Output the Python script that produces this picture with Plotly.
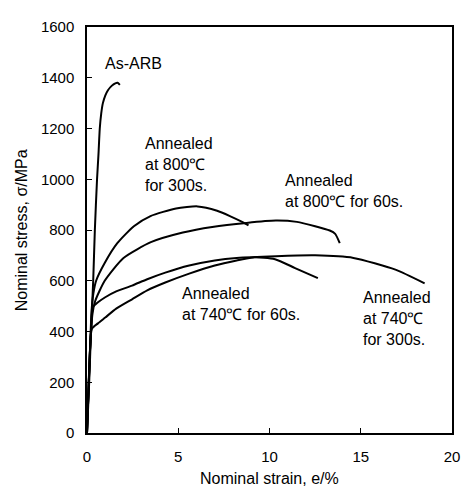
import plotly.graph_objects as go

# Data (nominal strain %, nominal stress MPa)
arb_strain = [0, 0.12, 0.22, 0.34, 0.43, 0.55, 0.63, 0.70, 0.78, 0.87, 1.0, 1.14, 1.35, 1.55, 1.68, 1.8]
arb_stress = [0, 200, 400, 600, 800, 1000, 1100, 1200, 1260, 1300, 1330, 1350, 1368, 1378, 1380, 1372]

a800_300_strain = [0, 0.15, 0.25, 0.35, 0.5, 0.97, 1.66, 2.57, 3.48, 4.88, 6.06, 7.13, 7.83, 8.5, 8.85]
a800_300_stress = [0, 300, 480, 550, 600, 670, 748, 815, 855, 885, 893, 876, 855, 832, 818]

a800_60_strain = [0, 0.18, 0.3, 0.45, 0.97, 2.0, 3.5, 5.25, 6.86, 8.74, 10.35, 11.5, 12.5, 13.3, 13.6, 13.85]
a800_60_stress = [0, 350, 470, 520, 600, 690, 752, 790, 812, 828, 837, 832, 815, 798, 785, 748]

a740_300_strain = [0, 0.15, 0.25, 0.32, 0.6, 1.0, 1.6, 2.47, 3.3, 4.29, 5.6, 7.0, 8.2, 10.35, 12.5, 14.6, 16.9, 18.5]
a740_300_stress = [0, 300, 440, 496, 515, 535, 558, 581, 606, 632, 660, 680, 690, 697, 700, 690, 644, 590]

a740_60_strain = [0, 0.15, 0.27, 0.6, 1.0, 1.6, 2.47, 3.3, 4.29, 5.6, 7.0, 8.2, 9.1, 10.3, 11.4, 12.65]
a740_60_stress = [0, 300, 411, 432, 455, 490, 527, 562, 593, 628, 660, 680, 692, 685, 650, 610]

x_ticks = [0, 5, 10, 15, 20]
y_ticks = [0, 200, 400, 600, 800, 1000, 1200, 1400, 1600]

labels = [
    ("As-ARB", 0.9, 1457),
    ("Annealed<br>at 800\u2103<br>for 300s.", 3.06, 1058),
    ("Annealed<br>at 800\u2103 for 60s.", 10.72, 953),
    ("Annealed<br>at 740\u2103 for 60s.", 5.09, 508),
    ("Annealed<br>at 740\u2103<br>for 300s.", 15.0, 450),
]

FONT = "Liberation Sans, Arial, sans-serif"

fig = go.Figure()
for xs, ys in [(arb_strain, arb_stress), (a800_300_strain, a800_300_stress),
               (a800_60_strain, a800_60_stress), (a740_300_strain, a740_300_stress),
               (a740_60_strain, a740_60_stress)]:
    fig.add_trace(go.Scatter(x=xs, y=ys, mode="lines",
                             line=dict(color="black", width=2, shape="spline", smoothing=0.6),
                             showlegend=False, hoverinfo="skip"))

for text, x, y in labels:
    fig.add_annotation(x=x, y=y, text=text, showarrow=False, xanchor="left", yanchor="middle",
                       align="left", font=dict(family=FONT, size=16, color="black"))

fig.add_annotation(xref="paper", yref="paper", x=0.5, y=-0.113, text="Nominal strain, e/%",
                   showarrow=False, xanchor="center", yanchor="middle",
                   font=dict(family=FONT, size=16, color="black"))
fig.add_annotation(xref="paper", yref="paper", x=-0.18, y=0.5, text="Nominal stress, \u03c3/MPa",
                   showarrow=False, xanchor="center", yanchor="middle", textangle=-90,
                   font=dict(family=FONT, size=16, color="black"))

axis_common = dict(showline=True, linecolor="black", linewidth=1.5, mirror=True,
                   ticks="inside", ticklen=5, tickwidth=1, tickcolor="black",
                   showgrid=False, zeroline=False,
                   tickfont=dict(family=FONT, size=15, color="black"))

fig.update_xaxes(range=[0, 20], tickvals=x_ticks, ticktext=[str(v) for v in x_ticks],
                 ticklabelstandoff=9, **axis_common)
fig.update_yaxes(range=[0, 1600], tickvals=y_ticks, ticktext=[str(v) for v in y_ticks],
                 ticklabelstandoff=8, **axis_common)

# page body has an 8px default margin; size the figure so the plot area lands at 87..460 x 19..433
fig.update_layout(width=462, height=481, margin=dict(l=79, r=10, t=11, b=56),
                  plot_bgcolor="white", paper_bgcolor="white",
                  font=dict(family=FONT, color="black"))

fig.write_html("out.html")
